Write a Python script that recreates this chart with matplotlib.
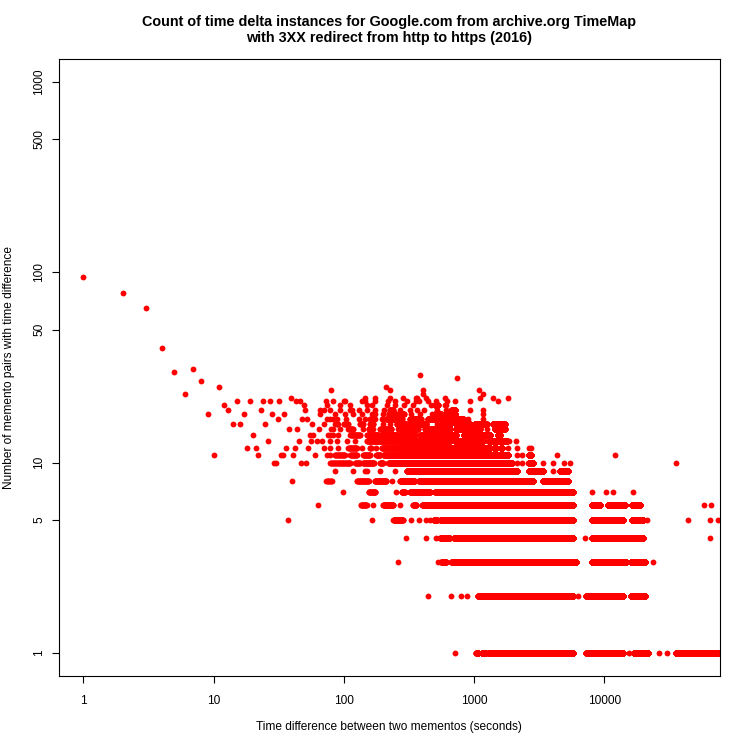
import numpy as np
import matplotlib
matplotlib.use('Agg')
import matplotlib.pyplot as plt

plt.rcParams['font.family'] = ['Liberation Sans', 'DejaVu Sans']

# count for each delta of 1..52 seconds (one point per delta)
early_counts = [94, 78, 65, 40, 30, 23, 31, 27, 18, 11,
                25, 20, 19, 16, 21, 16, 18, 12, 21, 14,
                12, 11, 19, 21, 16, 13, 21, 18, 10, 10,
                17, 21, 11, 11, 18, 12, 5, 15, 22, 8,
                11, 12, 21, 15, 13, 21, 10, 17, 20, 19,
                10, 17]

# beyond 52 s: per count level, spans of deltas (s) that are filled, and lone deltas
levels = [1, 2, 3, 4, 5, 6, 7, 8, 9, 10, 11, 12, 13, 14, 15,
          16, 17, 18, 19, 20, 21, 22, 23, 24, 25, 28, 29]

level_runs = [
    [(1040, 1080), (1150, 1230), (1290, 5730), (7300, 13900), (16900, 18500), (19000, 21800), (35300, 80000)],
    [(1075, 5730), (7300, 13900), (16000, 20700)],
    [(560, 610), (670, 6080), (8000, 14800), (16000, 20700)],
    [(550, 650), (700, 5730), (8000, 19800)],
    [(240, 285), (490, 520), (550, 5730), (8000, 14000), (16300, 19800)],
    [(135, 150), (200, 240), (340, 360), (400, 5730), (8000, 9270), (10700, 14400), (16300, 18800)],
    [(155, 175), (278, 295), (322, 460), (500, 5730)],
    [(73, 81), (126, 155), (173, 212), (270, 350), (375, 2850), (3400, 3700), (3900, 5300)],
    [(303, 2150), (2650, 3400), (4570, 5240)],
    [(78, 112), (122, 133), (140, 170), (190, 200), (220, 1950), (2620, 2850)],
    [(85, 102), (112, 126), (141, 159), (178, 190), (201, 1830), (2650, 2760)],
    [(108, 126), (159, 162), (196, 1330), (1420, 1480), (1600, 1650)],
    [(150, 654), (710, 1180), (1290, 1790)],
    [(112, 133), (150, 185), (196, 256), (270, 350), (385, 548), (600, 730), (830, 1325), (1520, 1580)],
    [(108, 118), (155, 166), (190, 232), (262, 322), (335, 370), (420, 548), (570, 654), (730, 900),
     (980, 1110), (1450, 1720)],
    [(88, 90), (100, 108), (133, 141), (159, 168), (255, 303), (322, 430), (570, 654), (730, 930),
     (1010, 1250), (1400, 1720)],
    [(159, 172), (211, 280), (322, 390), (440, 500), (548, 654), (670, 830)],
    [(221, 250), (262, 290), (500, 560), (600, 720)],
    [(226, 240), (670, 720)],
    [(500, 530)],
    [], [], [], [], [], [], [],
]

level_singles = [
    [715, 15500, 26200, 30600],
    [445, 670, 800, 880, 6260],
    [260, 530, 23900],
    [298, 424, 508, 7100, 65000],
    [165, 330, 375, 430, 460, 21400, 43800, 65000, 74800],
    [63, 168, 270, 58600, 66500],
    [98, 250, 8100, 10400, 11700, 16600],
    [233],
    [85, 118, 145, 150, 190, 246, 4060],
    [2130, 2320, 3400, 4060, 4950, 5450, 35800],
    [60, 74, 78, 2130, 2320, 4300, 12100],
    [53, 70, 78, 90, 137, 178, 1830, 2130, 2650, 2760],
    [56, 62, 68, 78, 88, 105, 122, 1870, 2100],
    [55, 58, 76, 78, 83, 90],
    [64, 80, 83, 93, 141, 1250],
    [57, 71, 85, 201, 226, 518],
    [74, 78, 83, 88, 104, 131, 145, 196, 900, 1170],
    [66, 85, 102, 118, 137, 164, 172, 201, 330, 385, 476, 1170],
    [66, 70, 78, 93, 112, 116, 131, 150, 172, 205, 270, 322, 366, 411, 520, 610, 930, 1170],
    [74, 93, 112, 150, 164, 216, 248, 290, 340, 470, 600, 610],
    [73, 83, 100, 102, 137, 145, 172, 220, 248, 303, 360, 377, 440, 508, 620, 720, 930, 1540],
    [145, 172, 226, 283, 356, 362, 430, 600, 1120, 1400, 1830],
    [405, 1170],
    [80, 226, 406, 1100],
    [211],
    [743],
    [383],
]

title = ('Count of time delta instances for Google.com from archive.org TimeMap\n'
         'with 3XX redirect from http to https (2016)')
xlabel = 'Time difference between two mementos (seconds)'
ylabel = 'Number of memento pairs with time difference'
xticks = [1, 10, 100, 1000, 10000]
yticks = [1, 5, 10, 50, 100, 500, 1000]

# assemble the points
xs = [np.arange(1, len(early_counts) + 1)]
ys = [np.array(early_counts)]
for lvl, runs, singles in zip(levels, level_runs, level_singles):
    for a, b in runs:
        seg = np.arange(a, b + 1)
        xs.append(seg)
        ys.append(np.full(seg.size, lvl))
    if singles:
        xs.append(np.array(singles))
        ys.append(np.full(len(singles), lvl))
x = np.concatenate(xs)
y = np.concatenate(ys)

fig = plt.figure(figsize=(7.5, 7.5), dpi=100)
ax = fig.add_axes([59 / 750, 1 - 676 / 750, (719.7 - 59) / 750, (676 - 59) / 750])

ax.plot(x, y, 'o', color='#ff0000', markersize=4.2, markeredgewidth=0)

ax.set_xscale('log')
ax.set_yscale('log')
ax.set_xlim(10 ** -0.188, 10 ** 4.887)
ax.set_ylim(10 ** -0.12, 10 ** 3.12)

ax.set_xticks(xticks)
ax.set_xticklabels([str(t) for t in xticks])
ax.set_yticks(yticks)
ax.set_yticklabels([str(t) for t in yticks], rotation=90, va='center')
ax.minorticks_off()
ax.tick_params(direction='out', length=5, width=0.8, labelsize=8.6, pad=5)
ax.tick_params(axis='x', pad=8.5)
for s in ax.spines.values():
    s.set_linewidth(0.8)

fig.text(389 / 750, 1 - 30 / 750, title, ha='center', va='center',
         fontsize=10.4, fontweight='bold', linespacing=1.2)
fig.text(389 / 750, 1 - 727 / 750, xlabel, ha='center', va='center', fontsize=8.6)
fig.text(9 / 750, 1 - 367 / 750, ylabel, ha='center', va='center',
         rotation=90, fontsize=8.6)

fig.savefig('out.png', dpi=100)
